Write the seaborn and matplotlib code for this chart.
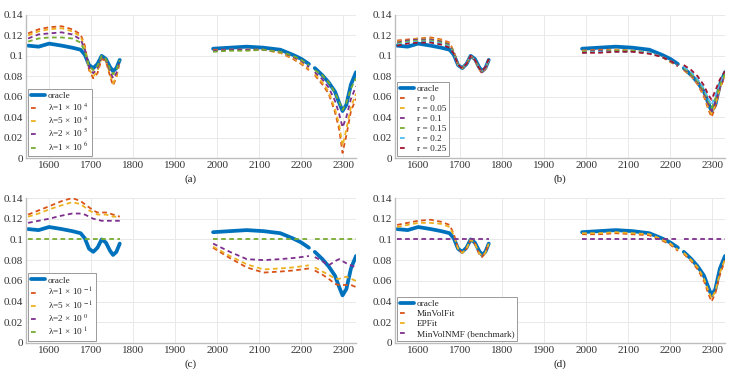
import numpy as np
import pandas as pd
import matplotlib
matplotlib.use('Agg')
import matplotlib.pyplot as plt
import seaborn as sns
from matplotlib.lines import Line2D
from matplotlib.ticker import FuncFormatter

# ========== data ==========
wl = [1550, 1575, 1600, 1630, 1655, 1675, 1685, 1695, 1705, 1715, 1725, 1735, 1745, 1752, 1760, 1768,
      1990, 2030, 2070, 2110, 2150, 2180, 2200, 2218,
      2232, 2250, 2265, 2280, 2290, 2298, 2307, 2318, 2330]
seg = [1] * 16 + [2] * 8 + [3] * 9   # three measured bands, gaps between them

oracle = [0.110, 0.109, 0.112, 0.110, 0.108, 0.106, 0.101, 0.091, 0.088, 0.092, 0.100, 0.097, 0.089, 0.085, 0.088, 0.096,
          0.107, 0.108, 0.109, 0.108, 0.106, 0.101, 0.097, 0.092,
          0.088, 0.081, 0.074, 0.065, 0.054, 0.046, 0.052, 0.072, 0.084]

# (a) lambda sweep, large values
a_labels = ['λ=1 × 10 $^{4}$', 'λ=5 × 10 $^{4}$', 'λ=2 × 10 $^{5}$', 'λ=1 × 10 $^{6}$']
a_1e4 = [0.122, 0.126, 0.128, 0.129, 0.126, 0.121, 0.110, 0.086, 0.078, 0.083, 0.097, 0.095, 0.080, 0.071, 0.079, 0.094,
         0.106, 0.106, 0.106, 0.106, 0.103, 0.097, 0.092, 0.086,
         0.081, 0.072, 0.063, 0.045, 0.028, 0.005, 0.022, 0.046, 0.058]
a_5e4 = [0.120, 0.124, 0.126, 0.127, 0.124, 0.119, 0.108, 0.087, 0.080, 0.085, 0.098, 0.095, 0.082, 0.073, 0.080, 0.095,
         0.105, 0.106, 0.106, 0.106, 0.103, 0.098, 0.093, 0.087,
         0.082, 0.074, 0.065, 0.048, 0.033, 0.012, 0.028, 0.050, 0.063]
a_2e5 = [0.117, 0.121, 0.122, 0.123, 0.121, 0.116, 0.106, 0.089, 0.083, 0.088, 0.099, 0.096, 0.085, 0.078, 0.083, 0.096,
         0.105, 0.106, 0.106, 0.106, 0.104, 0.099, 0.095, 0.089,
         0.084, 0.077, 0.069, 0.056, 0.043, 0.030, 0.040, 0.058, 0.070]
a_1e6 = [0.114, 0.117, 0.118, 0.118, 0.117, 0.113, 0.104, 0.090, 0.086, 0.090, 0.100, 0.097, 0.087, 0.082, 0.086, 0.096,
         0.104, 0.105, 0.105, 0.106, 0.104, 0.100, 0.096, 0.091,
         0.086, 0.081, 0.074, 0.064, 0.055, 0.047, 0.054, 0.068, 0.078]

# (b) r sweep
b_labels = ['r = 0', 'r = 0.05', 'r = 0.1', 'r = 0.15', 'r = 0.2', 'r = 0.25']
b_r00 = [0.115, 0.116, 0.117, 0.118, 0.116, 0.113, 0.104, 0.091, 0.088, 0.092, 0.100, 0.096, 0.087, 0.083, 0.087, 0.096,
         0.105, 0.106, 0.106, 0.105, 0.103, 0.099, 0.094, 0.090,
         0.086, 0.080, 0.072, 0.060, 0.048, 0.040, 0.050, 0.068, 0.080]
b_r05 = [0.114, 0.115, 0.117, 0.117, 0.115, 0.112, 0.104, 0.091, 0.088, 0.092, 0.100, 0.096, 0.087, 0.084, 0.087, 0.096,
         0.105, 0.105, 0.106, 0.105, 0.103, 0.099, 0.094, 0.090,
         0.086, 0.080, 0.073, 0.062, 0.050, 0.043, 0.052, 0.069, 0.081]
b_r10 = [0.113, 0.115, 0.116, 0.116, 0.114, 0.111, 0.103, 0.091, 0.088, 0.092, 0.100, 0.096, 0.087, 0.084, 0.088, 0.096,
         0.104, 0.105, 0.105, 0.105, 0.103, 0.099, 0.095, 0.090,
         0.087, 0.081, 0.074, 0.064, 0.053, 0.046, 0.055, 0.070, 0.082]
b_r15 = [0.112, 0.114, 0.115, 0.115, 0.113, 0.110, 0.103, 0.091, 0.088, 0.092, 0.100, 0.096, 0.088, 0.085, 0.088, 0.096,
         0.104, 0.104, 0.105, 0.105, 0.103, 0.099, 0.095, 0.091,
         0.088, 0.082, 0.075, 0.066, 0.056, 0.049, 0.058, 0.072, 0.083]
b_r20 = [0.111, 0.113, 0.114, 0.114, 0.112, 0.109, 0.102, 0.091, 0.088, 0.092, 0.100, 0.096, 0.088, 0.085, 0.088, 0.096,
         0.103, 0.104, 0.104, 0.104, 0.103, 0.099, 0.095, 0.091,
         0.089, 0.084, 0.077, 0.068, 0.058, 0.052, 0.061, 0.074, 0.084]
b_r25 = [0.110, 0.112, 0.113, 0.113, 0.111, 0.108, 0.102, 0.091, 0.088, 0.092, 0.100, 0.096, 0.088, 0.085, 0.089, 0.097,
         0.103, 0.103, 0.104, 0.104, 0.102, 0.099, 0.095, 0.091,
         0.091, 0.086, 0.080, 0.071, 0.062, 0.057, 0.066, 0.077, 0.085]

# (c) lambda sweep, small values
c_labels = ['λ=1 × 10 $^{-1}$', 'λ=5 × 10 $^{-1}$', 'λ=2 × 10 $^{0}$', 'λ=1 × 10 $^{1}$']
c_1em1 = [0.124, 0.128, 0.132, 0.137, 0.140, 0.137, 0.134, 0.131, 0.128, 0.126, 0.126, 0.126, 0.125, 0.124, 0.123, 0.122,
          0.092, 0.082, 0.073, 0.068, 0.069, 0.070, 0.071, 0.072,
          0.070, 0.066, 0.062, 0.057, 0.056, 0.056, 0.056, 0.056, 0.054]
c_5em1 = [0.122, 0.125, 0.129, 0.133, 0.136, 0.134, 0.131, 0.128, 0.126, 0.124, 0.124, 0.124, 0.123, 0.122, 0.122, 0.121,
          0.093, 0.084, 0.076, 0.071, 0.072, 0.073, 0.074, 0.075,
          0.073, 0.069, 0.066, 0.062, 0.062, 0.063, 0.064, 0.062, 0.060]
c_2e0 = [0.116, 0.118, 0.120, 0.123, 0.125, 0.125, 0.124, 0.122, 0.120, 0.119, 0.118, 0.118, 0.118, 0.118, 0.118, 0.118,
         0.096, 0.088, 0.081, 0.080, 0.081, 0.082, 0.083, 0.084,
         0.083, 0.079, 0.075, 0.079, 0.081, 0.079, 0.077, 0.075, 0.073]
c_1e1 = [0.100, 0.100, 0.100, 0.100, 0.100, 0.100, 0.100, 0.100, 0.100, 0.100, 0.100, 0.100, 0.100, 0.100, 0.100, 0.100,
         0.100, 0.100, 0.100, 0.100, 0.100, 0.100, 0.100, 0.100,
         0.100, 0.100, 0.100, 0.100, 0.100, 0.100, 0.100, 0.100, 0.100]

# (d) method comparison
d_labels = ['MinVolFit', 'EPFit', 'MinVolNMF (benchmark)']
d_minvolfit = [0.114, 0.116, 0.118, 0.119, 0.117, 0.114, 0.105, 0.091, 0.087, 0.091, 0.100, 0.096, 0.086, 0.083, 0.087, 0.096,
               0.105, 0.105, 0.106, 0.105, 0.104, 0.099, 0.095, 0.089,
               0.086, 0.079, 0.071, 0.060, 0.048, 0.040, 0.048, 0.066, 0.080]
d_epfit = [0.112, 0.114, 0.116, 0.116, 0.115, 0.112, 0.104, 0.091, 0.087, 0.091, 0.100, 0.096, 0.087, 0.084, 0.087, 0.096,
           0.106, 0.106, 0.107, 0.106, 0.105, 0.100, 0.096, 0.090,
           0.087, 0.080, 0.073, 0.062, 0.051, 0.043, 0.050, 0.068, 0.081]
d_bench = [0.100, 0.100, 0.100, 0.100, 0.100, 0.100, 0.100, 0.100, 0.100, 0.100, 0.100, 0.100, 0.100, 0.100, 0.100, 0.100,
           0.100, 0.100, 0.100, 0.100, 0.100, 0.100, 0.100, 0.100,
           0.100, 0.100, 0.100, 0.100, 0.100, 0.100, 0.100, 0.100, 0.100]

# MATLAB default colour order
BLUE = '#0072BD'
mcolors = ['#D95319', '#EDB120', '#7E2F8E', '#77AC30', '#4DBEEE', '#A2142F']

# ========== style ==========
sns.set_style('whitegrid')
plt.rcParams['font.family'] = ['Liberation Serif', 'DejaVu Serif']
plt.rcParams['mathtext.fontset'] = 'stix'
FS = 8


def long_form(names, values):
    rows = []
    for name, vals in zip(names, values):
        for w, s, v in zip(wl, seg, vals):
            rows.append((name, s, w, v))
    return pd.DataFrame(rows, columns=['series', 'seg', 'wl', 'val'])


def draw_panel(ax, labels, values, tag):
    df_or = long_form(['oracle'], [oracle])
    sns.lineplot(data=df_or, x='wl', y='val', units='seg', estimator=None, color=BLUE,
                 lw=2.7, ax=ax, sort=False, legend=False)
    cols = mcolors[:len(labels)]
    df = long_form(labels, values)
    sns.lineplot(data=df, x='wl', y='val', hue='series', style='series', units='seg',
                 estimator=None, palette=dict(zip(labels, cols)), hue_order=labels,
                 dashes={n: (2.6, 1.9) for n in labels}, lw=1.3, ax=ax, sort=False, legend=False)

    ax.set_xlim(1545, 2330)
    ax.set_ylim(0, 0.14)
    ax.set_xticks(np.arange(1600, 2301, 100))
    ax.set_yticks(np.arange(0, 0.141, 0.02))
    ax.yaxis.set_major_formatter(FuncFormatter(lambda v, p: f'{v:g}'))
    ax.grid(True, color='#e9e9e9', lw=0.7)
    for s in ['top', 'right']:
        ax.spines[s].set_visible(False)
    for s in ['left', 'bottom']:
        ax.spines[s].set_color('#bdbdbd')
        ax.spines[s].set_linewidth(1.0)
    ax.tick_params(labelsize=FS, colors='#333333', length=0, pad=2)
    ax.set_ylabel('')
    ax.set_xlabel(tag, fontsize=FS, color='#222222')
    ax.xaxis.set_label_coords(0.5, -0.115)

    handles = [Line2D([0], [0], color=BLUE, lw=2.7)]
    for c in cols:
        handles.append(Line2D([0], [0], color=c, lw=1.3, dashes=(2.6, 12)))
    leg = ax.legend(handles, ['oracle'] + labels, loc='lower left', fontsize=6.7,
                    frameon=True, fancybox=False, framealpha=1, edgecolor='#9a9a9a',
                    borderpad=0.3, borderaxespad=0.25, labelspacing=0.15,
                    handlelength=1.5, handletextpad=0.3)
    leg.get_frame().set_linewidth(0.7)


fig = plt.figure(figsize=(7.47, 3.71), dpi=100)
ax_a = fig.add_axes([26 / 747, 213 / 371, 330 / 747, 143 / 371])
ax_b = fig.add_axes([395 / 747, 213 / 371, 330 / 747, 143 / 371])
ax_c = fig.add_axes([26 / 747, 28 / 371, 330 / 747, 145 / 371])
ax_d = fig.add_axes([395 / 747, 28 / 371, 330 / 747, 145 / 371])

draw_panel(ax_a, a_labels, [a_1e4, a_5e4, a_2e5, a_1e6], '(a)')
draw_panel(ax_b, b_labels, [b_r00, b_r05, b_r10, b_r15, b_r20, b_r25], '(b)')
draw_panel(ax_c, c_labels, [c_1em1, c_5em1, c_2e0, c_1e1], '(c)')
draw_panel(ax_d, d_labels, [d_minvolfit, d_epfit, d_bench], '(d)')

fig.savefig('out.png', dpi=100)
